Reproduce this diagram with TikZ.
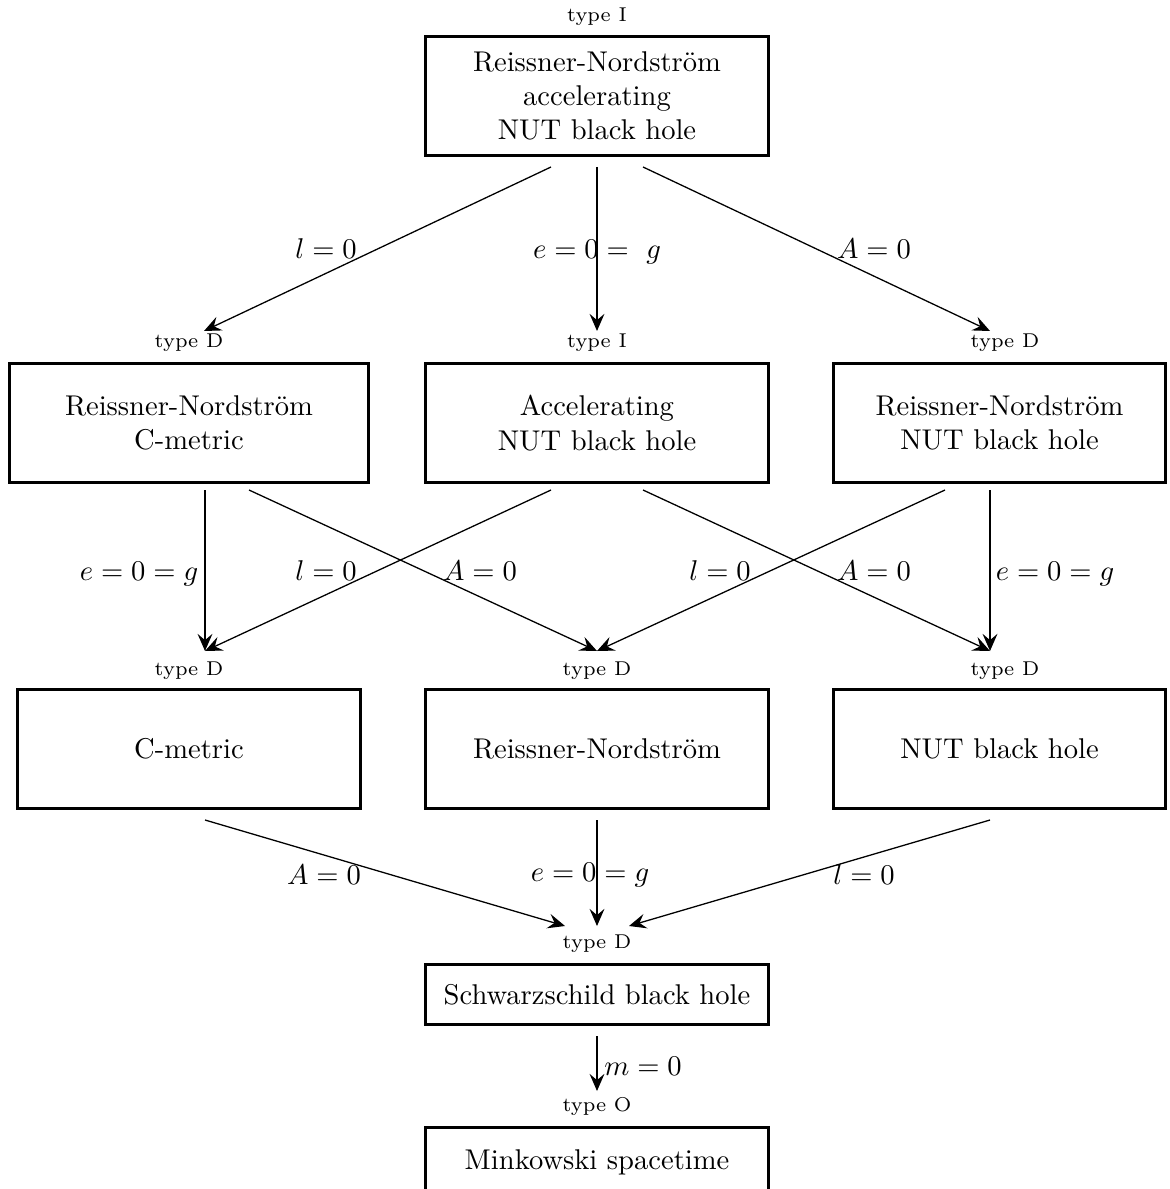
\documentclass[tikz,border=0pt]{standalone}
\usetikzlibrary{arrows.meta}
\begin{document}
\begin{tikzpicture}[x=0.35pt,y=-0.35pt,
  box/.style={draw,line width=0.9pt,align=center,inner sep=0pt},
  bw/.style={minimum width={#1*0.35pt-0.9pt}},
  bh/.style={minimum height={#1*0.35pt-0.9pt}},
  tl/.style={font=\scriptsize,anchor=base,inner sep=0pt},
  lbl/.style={anchor=base,inner sep=0pt},
  arr/.style={-{Stealth[length=6pt,width=5.2pt,inset=2.2pt]},line width=0.45pt}]
\useasboundingbox (0,0) rectangle (1169,1189);
\clip (0,0) rectangle (1169,1189);

% boxes
\node[box,bw=346,bh=122] (top) at (597,96) {Reissner-Nordstr\"om\\accelerating\\NUT black hole};
\node[box,bw=362,bh=122] (rnc) at (189,423) {Reissner-Nordstr\"om\\C-metric};
\node[box,bw=346,bh=122] (anut) at (597,423) {Accelerating\\NUT black hole};
\node[box,bw=335,bh=122] (rnnut) at (999.5,423) {Reissner-Nordstr\"om\\NUT black hole};
\node[box,bw=346,bh=122] (cm) at (189,749) {C-metric};
\node[box,bw=346,bh=122] (rn) at (597,749) {Reissner-Nordstr\"om};
\node[box,bw=335,bh=122] (nut) at (999.5,749) {NUT black hole};
\node[box,bw=346,bh=63] (schw) at (597,994.5) {Schwarzschild black hole};
\node[box,bw=346,bh=72] (mink) at (597,1162) {Minkowski spacetime};

% type labels
\node[tl] (ttop) at (597,22) {type I};
\node[tl] (trnc) at (189,348) {type D};
\node[tl] (tanut) at (597,348) {type I};
\node[tl] (trnnut) at (1005,348) {type D};
\node[tl] (tcm) at (189,675) {type D};
\node[tl] (trn) at (597,675) {type D};
\node[tl] (tnut) at (1005,675) {type D};
\node[tl] (tschw) at (597,948) {type D};
\node[tl] (tmink) at (597,1111) {type O};

% connector end points
\coordinate (s1a) at (551,167); \coordinate (e1a) at (204,331);
\coordinate (s1b) at (597,167); \coordinate (e1b) at (597,331);
\coordinate (s1c) at (643,167); \coordinate (e1c) at (990,331);
\coordinate (s2a) at (205,490); \coordinate (e2a) at (205,651);
\coordinate (s2b) at (249,490); \coordinate (e2b) at (597,651);
\coordinate (s2c) at (551,490); \coordinate (e2c) at (205,651);
\coordinate (s2d) at (643,490); \coordinate (e2d) at (990,651);
\coordinate (s2e) at (945,490); \coordinate (e2e) at (597,651);
\coordinate (s2f) at (990,490); \coordinate (e2f) at (990,651);
\coordinate (s3a) at (205,820); \coordinate (e3a) at (565,926);
\coordinate (s3b) at (597,820); \coordinate (e3b) at (597,926);
\coordinate (s3c) at (990,820); \coordinate (e3c) at (629,926);
\coordinate (s4) at (597,1036); \coordinate (e4) at (597,1091);

\draw[arr] (s1a) -- (e1a);
\draw[arr] (s1b) -- (e1b);
\draw[arr] (s1c) -- (e1c);
\draw[arr] (s2a) -- (e2a);
\draw[arr] (s2b) -- (e2b);
\draw[arr] (s2c) -- (e2c);
\draw[arr] (s2d) -- (e2d);
\draw[arr] (s2e) -- (e2e);
\draw[arr] (s2f) -- (e2f);
\draw[arr] (s3a) -- (e3a);
\draw[arr] (s3b) -- (e3b);
\draw[arr] (s3c) -- (e3c);
\draw[arr] (s4) -- (e4);

% connector labels
\node[lbl] (l1a) at (326,259) {$l=0$};
\node[lbl] (l1b) at (597,259) {$e=0=\ g$};
\node[lbl] (l1c) at (874,259) {$A=0$};
\node[lbl] (l2a) at (139,580) {$e=0=g$};
\node[lbl] (l2c) at (326,580) {$l=0$};
\node[lbl] (l2b) at (480,580) {$A=0$};
\node[lbl] (l2e) at (720,580) {$l=0$};
\node[lbl] (l2d) at (874,580) {$A=0$};
\node[lbl] (l2f) at (1055,580) {$e=0=g$};
\node[lbl] (l3a) at (324,884) {$A=0$};
\node[lbl] (l3b) at (590,881) {$e=0=g$};
\node[lbl] (l3c) at (864,884) {$l=0$};
\node[lbl] (l4) at (643,1075) {$m=0$};
\end{tikzpicture}
\end{document}
